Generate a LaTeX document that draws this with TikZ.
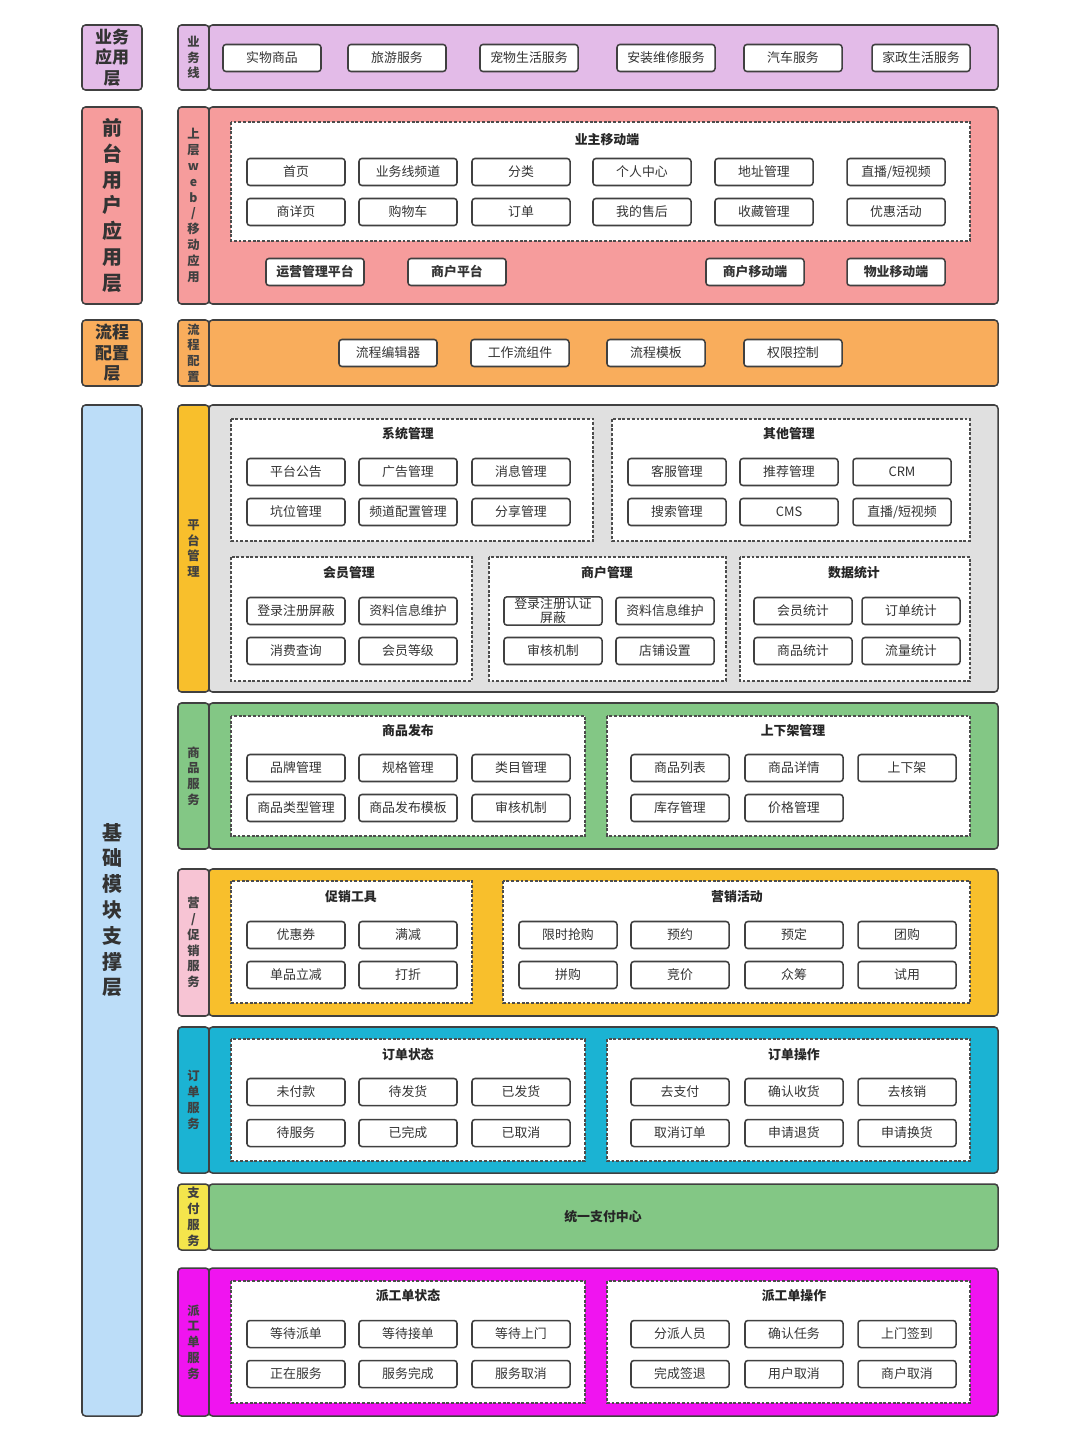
\documentclass[tikz,border=0pt]{standalone}
\usepackage{fontspec}
\setmainfont{Noto Sans CJK SC}
\usepackage{tikz}
\usetikzlibrary{positioning}
\definecolor{bizc}{HTML}{E3BBE8}
\definecolor{frontc}{HTML}{F69C9C}
\definecolor{flowc}{HTML}{F9AD5C}
\definecolor{basec}{HTML}{BCDDF8}
\definecolor{goldc}{HTML}{F8BF2C}
\definecolor{grayc}{HTML}{E0E0E0}
\definecolor{greenc}{HTML}{83C785}
\definecolor{pinkc}{HTML}{F7C4D4}
\definecolor{cyanc}{HTML}{1BB3D3}
\definecolor{yelc}{HTML}{F4E54C}
\definecolor{magc}{HTML}{F014F0}
\tikzset{
  layerbox/.style={draw=black!75, line width=1.3pt, rounded corners=3pt},
  layertext/.style={font=\fontsize{14.5}{17.5}\selectfont\bfseries, align=center, text=black!80},
  bigtext/.style={font=\fontsize{17}{22}\selectfont\bfseries, align=center, text=black!80},
  sidetext/.style={font=\fontsize{10.5}{13.5}\selectfont\bfseries, align=center, text=black!75},
  groupbox/.style={draw=black!70, fill=white, line width=1.1pt, dash pattern=on 2.5pt off 1.5pt},
  grouptitle/.style={font=\fontsize{11}{13}\selectfont\bfseries, text=black!85},
  itembox/.style={draw=black!75, fill=white, line width=1.3pt, rounded corners=2.5pt,
    minimum width=2.94cm, minimum height=0.81cm, inner sep=1pt, align=center,
    font=\fontsize{11}{11}\selectfont, text=black!80},
  keyitem/.style={itembox, font=\fontsize{11}{11}\selectfont\bfseries},
}

\begin{document}
\begin{tikzpicture}[x=0.03cm, y=-0.03cm]
  \useasboundingbox[fill=white] (0,0) rectangle (1080,1440);

  % left layer column
  \draw[layerbox, fill=bizc] (82,25) rectangle (142,90);
  \node[layertext] (lyBiz) at (112,57.5) {业务\\应用\\层};
  \draw[layerbox, fill=frontc] (82,107) rectangle (142,304);
  \node[bigtext] (lyFront) at (112,205.5) {前\\台\\用\\户\\应\\用\\层};
  \draw[layerbox, fill=flowc] (82,320) rectangle (142,386);
  \node[layertext] (lyFlow) at (112,353) {流程\\配置\\层};
  \draw[layerbox, fill=basec] (82,405) rectangle (142,1416);
  \node[bigtext] (lyBase) at (112,910) {基\\础\\模\\块\\支\\撑\\层};

  % business lines
  \draw[layerbox, fill=bizc] (209,25) rectangle (998,90);
  \draw[layerbox, fill=bizc] (178,25) rectangle (209,90);
  \node[sidetext] (sdBiz) at (193.5,57.5) {业\\务\\线};
  \foreach \t/\x [count=\i] in {实物商品/272, 旅游服务/397, 宠物生活服务/529, 安装维修服务/666, 汽车服务/793, 家政生活服务/921}
    \node[itembox] (biz\i) at (\x,58) {\t};

  % web / mobile
  \draw[layerbox, fill=frontc] (209,107) rectangle (998,304);
  \draw[layerbox, fill=frontc] (178,107) rectangle (209,304);
  \node[sidetext] (sdFront) at (193.5,205.5) {上\\层\\w\\e\\b\\/\\移\\动\\应\\用};
  \draw[groupbox] (231,122) rectangle (970,241);
  \node[grouptitle] (gOwner) at (607,140) {业主移动端};
  \foreach \t/\x [count=\i] in {首页/296, 业务线频道/408, 分类/521, 个人中心/642, 地址管理/764, {直播/短视频}/896}
    \node[itembox] (own\i) at (\x,172) {\t};
  \foreach \t/\x [count=\i] in {商详页/296, 购物车/408, 订单/521, 我的售后/642, 收藏管理/764, 优惠活动/896}
    \node[itembox] (ownb\i) at (\x,212) {\t};
  \foreach \t/\x [count=\i] in {运营管理平台/315, 商户平台/457, 商户移动端/755, 物业移动端/896}
    \node[keyitem] (app\i) at (\x,272) {\t};

  % process config
  \draw[layerbox, fill=flowc] (209,320) rectangle (998,386);
  \draw[layerbox, fill=flowc] (178,320) rectangle (209,386);
  \node[sidetext] (sdFlow) at (193.5,353) {流\\程\\配\\置};
  \foreach \t/\x [count=\i] in {流程编辑器/388, 工作流组件/520, 流程模板/656, 权限控制/793}
    \node[itembox] (flow\i) at (\x,353) {\t};

  % platform management
  \draw[layerbox, fill=grayc] (209,405) rectangle (998,692);
  \draw[layerbox, fill=goldc] (178,405) rectangle (209,692);
  \node[sidetext] (sdPlat) at (193.5,548.5) {平\\台\\管\\理};
  \draw[groupbox] (231,419) rectangle (593,541);
  \node[grouptitle] (gSys) at (408,434) {系统管理};
  \foreach \t/\x [count=\i] in {平台公告/296, 广告管理/408, 消息管理/521}
    \node[itembox] (sys\i) at (\x,472) {\t};
  \foreach \t/\x [count=\i] in {坑位管理/296, 频道配置管理/408, 分享管理/521}
    \node[itembox] (sysb\i) at (\x,512) {\t};
  \draw[groupbox] (612,419) rectangle (970,541);
  \node[grouptitle] (gOther) at (789,434) {其他管理};
  \foreach \t/\x [count=\i] in {客服管理/677, 推荐管理/789, CRM/902}
    \node[itembox] (oth\i) at (\x,472) {\t};
  \foreach \t/\x [count=\i] in {搜索管理/677, CMS/789, {直播/短视频}/902}
    \node[itembox] (othb\i) at (\x,512) {\t};
  \draw[groupbox] (231,557) rectangle (472,681);
  \node[grouptitle] (gMember) at (349,573) {会员管理};
  \node[itembox] (mem1) at (296,611) {登录注册屏蔽};
  \node[itembox] (mem2) at (408,611) {资料信息维护};
  \node[itembox] (mem3) at (296,651) {消费查询};
  \node[itembox] (mem4) at (408,651) {会员等级};
  \draw[groupbox] (489,557) rectangle (726,681);
  \node[grouptitle] (gShop) at (607,573) {商户管理};
  \node[itembox, font=\fontsize{11}{12}\selectfont] (shop1) at (553,611) {登录注册认证\\屏蔽};
  \node[itembox] (shop2) at (665,611) {资料信息维护};
  \node[itembox] (shop3) at (553,651) {审核机制};
  \node[itembox] (shop4) at (665,651) {店铺设置};
  \draw[groupbox] (740,557) rectangle (970,681);
  \node[grouptitle] (gStat) at (854,573) {数据统计};
  \node[itembox] (stat1) at (803,611) {会员统计};
  \node[itembox] (stat2) at (911,611) {订单统计};
  \node[itembox] (stat3) at (803,651) {商品统计};
  \node[itembox] (stat4) at (911,651) {流量统计};

  % product service
  \draw[layerbox, fill=greenc] (209,703) rectangle (998,849);
  \draw[layerbox, fill=greenc] (178,703) rectangle (209,849);
  \node[sidetext] (sdGoods) at (193.5,776) {商\\品\\服\\务};
  \draw[groupbox] (231,716) rectangle (585,836);
  \node[grouptitle] (gPub) at (408,731) {商品发布};
  \foreach \t/\x [count=\i] in {品牌管理/296, 规格管理/408, 类目管理/521}
    \node[itembox] (pub\i) at (\x,768) {\t};
  \foreach \t/\x [count=\i] in {商品类型管理/296, 商品发布模板/408, 审核机制/521}
    \node[itembox] (pubb\i) at (\x,808) {\t};
  \draw[groupbox] (607,716) rectangle (970,836);
  \node[grouptitle] (gShelf) at (793,731) {上下架管理};
  \foreach \t/\x [count=\i] in {商品列表/680, 商品详情/794, 上下架/907}
    \node[itembox] (shf\i) at (\x,768) {\t};
  \node[itembox] (shfb1) at (680,808) {库存管理};
  \node[itembox] (shfb2) at (794,808) {价格管理};

  % marketing service
  \draw[layerbox, fill=goldc] (209,869) rectangle (998,1016);
  \draw[layerbox, fill=pinkc] (178,869) rectangle (209,1016);
  \node[sidetext] (sdMkt) at (193.5,942.5) {营\\/\\促\\销\\服\\务};
  \draw[groupbox] (231,881) rectangle (472,1003);
  \node[grouptitle] (gPromo) at (351,897) {促销工具};
  \node[itembox] (pro1) at (296,935) {优惠券};
  \node[itembox] (pro2) at (408,935) {满减};
  \node[itembox] (pro3) at (296,975) {单品立减};
  \node[itembox] (pro4) at (408,975) {打折};
  \draw[groupbox] (503,881) rectangle (970,1003);
  \node[grouptitle] (gCamp) at (737,897) {营销活动};
  \foreach \t/\x [count=\i] in {限时抢购/568, 预约/680, 预定/794, 团购/907}
    \node[itembox] (cmp\i) at (\x,935) {\t};
  \foreach \t/\x [count=\i] in {拼购/568, 竞价/680, 众筹/794, 试用/907}
    \node[itembox] (cmpb\i) at (\x,975) {\t};

  % order service
  \draw[layerbox, fill=cyanc] (209,1027) rectangle (998,1173);
  \draw[layerbox, fill=cyanc] (178,1027) rectangle (209,1173);
  \node[sidetext] (sdOrder) at (193.5,1100) {订\\单\\服\\务};
  \draw[groupbox] (231,1039) rectangle (585,1161);
  \node[grouptitle] (gOState) at (408,1055) {订单状态};
  \foreach \t/\x [count=\i] in {未付款/296, 待发货/408, 已发货/521}
    \node[itembox] (ost\i) at (\x,1092) {\t};
  \foreach \t/\x [count=\i] in {待服务/296, 已完成/408, 已取消/521}
    \node[itembox] (ostb\i) at (\x,1133) {\t};
  \draw[groupbox] (607,1039) rectangle (970,1161);
  \node[grouptitle] (gOOp) at (794,1055) {订单操作};
  \foreach \t/\x [count=\i] in {去支付/680, 确认收货/794, 去核销/907}
    \node[itembox] (oop\i) at (\x,1092) {\t};
  \foreach \t/\x [count=\i] in {取消订单/680, 申请退货/794, 申请换货/907}
    \node[itembox] (oopb\i) at (\x,1133) {\t};

  % payment service
  \draw[layerbox, fill=greenc] (209,1184) rectangle (998,1250);
  \draw[layerbox, fill=yelc] (178,1184) rectangle (209,1250);
  \node[sidetext] (sdPay) at (193.5,1217) {支\\付\\服\\务};
  \node[grouptitle] (payCenter) at (603,1217) {统一支付中心};

  % dispatch service
  \draw[layerbox, fill=magc] (209,1268) rectangle (998,1416);
  \draw[layerbox, fill=magc] (178,1268) rectangle (209,1416);
  \node[sidetext] (sdDisp) at (193.5,1342) {派\\工\\单\\服\\务};
  \draw[groupbox] (231,1281) rectangle (585,1403);
  \node[grouptitle] (gDState) at (408,1296) {派工单状态};
  \foreach \t/\x [count=\i] in {等待派单/296, 等待接单/408, 等待上门/521}
    \node[itembox] (dst\i) at (\x,1334) {\t};
  \foreach \t/\x [count=\i] in {正在服务/296, 服务完成/408, 服务取消/521}
    \node[itembox] (dstb\i) at (\x,1374) {\t};
  \draw[groupbox] (607,1281) rectangle (970,1403);
  \node[grouptitle] (gDOp) at (794,1296) {派工单操作};
  \foreach \t/\x [count=\i] in {分派人员/680, 确认任务/794, 上门签到/907}
    \node[itembox] (dop\i) at (\x,1334) {\t};
  \foreach \t/\x [count=\i] in {完成签退/680, 用户取消/794, 商户取消/907}
    \node[itembox] (dopb\i) at (\x,1374) {\t};
\end{tikzpicture}
\end{document}
